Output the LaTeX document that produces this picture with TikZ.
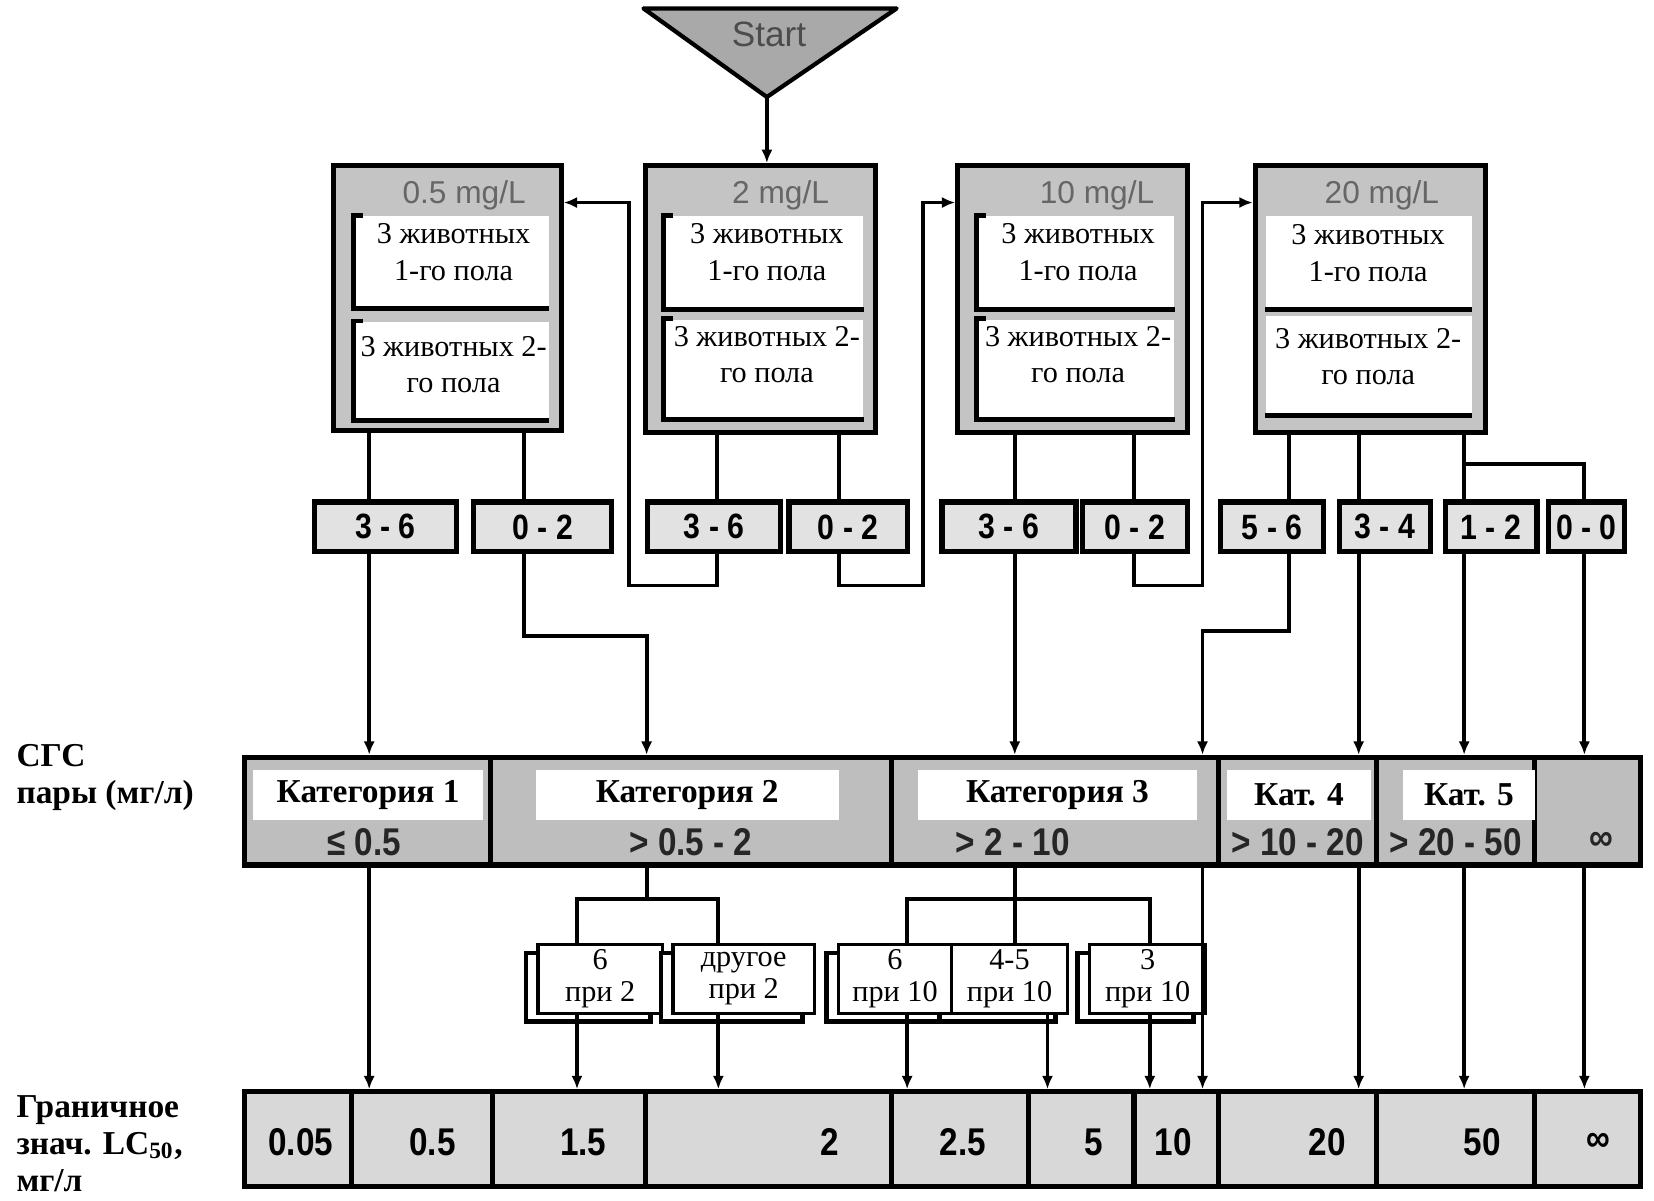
\documentclass[tikz,border=0pt]{standalone}
\usepackage{fontspec}
\setmainfont{Liberation Serif}
\setsansfont{Liberation Sans}
\newfontfamily\narrowsf[FakeStretch=0.86]{Liberation Sans}
\usetikzlibrary{positioning,arrows.meta,calc,shadows}
\definecolor{TriGray}{HTML}{A9A9A9}
\definecolor{DoseGray}{HTML}{C4C4C4}
\definecolor{ResGray}{HTML}{E2E2E2}
\definecolor{CatGray}{HTML}{BEBEBE}
\definecolor{LcGray}{HTML}{D8D8D8}
\definecolor{TitleGray}{HTML}{666666}
\newcommand{\upx}{0.010548cm}

\tikzset{
  dosebox/.style={draw,line width=1.5pt,fill=DoseGray,inner sep=0pt},
  dosetitle/.style={font=\sffamily\fontsize{9}{10}\selectfont,text=TitleGray,inner sep=0pt},
  sexbox/.style={fill=white,inner sep=0pt},
  sextext/.style={font=\fontsize{8.6}{10.3}\selectfont,align=center,inner sep=0pt},
  resbox/.style={draw,line width=1.5pt,fill=ResGray,inner sep=0pt,
    font=\narrowsf\bfseries\fontsize{10}{11}\selectfont},
  catcell/.style={draw,line width=1.5pt,fill=CatGray,inner sep=0pt},
  catlbl/.style={fill=white,inner sep=0pt,font=\bfseries\fontsize{9.5}{11}\selectfont},
  catrng/.style={font=\narrowsf\bfseries\fontsize{11}{12}\selectfont,text=black!85,inner sep=0pt},
  mortbox/.style={draw,line width=.9pt,fill=white,inner sep=0pt,align=center,
    font=\fontsize{8.6}{9.2}\selectfont,
    copy shadow={shadow xshift=-1.2mm,shadow yshift=-.85mm,draw=black,fill=white,line width=1.3pt}},
  lccell/.style={draw,line width=1.5pt,fill=LcGray,inner sep=0pt},
  lcval/.style={font=\narrowsf\bfseries\fontsize{11}{12}\selectfont,inner sep=0pt},
  sidelbl/.style={font=\bfseries\fontsize{9.5}{10.5}\selectfont,align=left,inner sep=0pt},
  conn/.style={line width=1.1pt},
  arr/.style={conn,-{Latex[length=3.8pt,width=3.2pt]}},
}

\begin{document}
\begin{tikzpicture}[x=\upx,y=-\upx]
\useasboundingbox (0,0) rectangle (1568,1138);

% ================= start =================
\filldraw[fill=TriGray,line width=1.2pt,line join=round] (610,8) -- (850,8) -- (727,92) -- cycle;
\node[font=\sffamily\fontsize{10}{12}\selectfont,text=black!70] (start) at (729,33) {Start};
\coordinate (startTip) at (727,92);

% ================= dose boxes =================
\node[dosebox,minimum width=216*\upx,minimum height=251*\upx] (b1) at (424,282.5) {};
\node[dosebox,minimum width=218*\upx,minimum height=253*\upx] (b2) at (721,283.5) {};
\node[dosebox,minimum width=218*\upx,minimum height=253*\upx] (b3) at (1017,283.5) {};
\node[dosebox,minimum width=218*\upx,minimum height=253*\upx] (b4) at (1299,283.5) {};

\node[dosetitle] (b1t) at (440,185) {0.5 mg/L};
\node[dosetitle] (b2t) at (740,185) {2 mg/L};
\node[dosetitle] (b3t) at (1040,185) {10 mg/L};
\node[dosetitle] (b4t) at (1310,185) {20 mg/L};

\foreach \n/\xa/\xb/\ya/\yb in {b1u/336/520/205/292, b1l/336/520/305/398,
    b2u/630/818/205/293, b2l/630/818/303/397, b3u/926/1113/205/293, b3l/926/1113/303/397,
    b4u/1200/1395/205/293, b4l/1200/1395/300/393}
  \node[sexbox,minimum width=(\xb-\xa)*\upx,minimum height=(\yb-\ya)*\upx]
    (\n) at ({(\xa+\xb)/2},{(\ya+\yb)/2}) {};
\foreach \n in {b1u,b1l,b2u,b2l,b3u,b3l}
  \draw[line width=1.4pt] ($(\n.north west)+(9,0)$) -- (\n.north west) -- (\n.south west) -- (\n.south east);
\foreach \n in {b4u,b4l}
  \draw[line width=1.4pt] (\n.south west) -- (\n.south east);

\foreach \n/\x/\yu/\yl in {b1/430/239/346, b2/727/239/336, b3/1022/239/336, b4/1297/240/338}{
  \node[sextext] (\n-m) at (\x,\yu) {3 животных\\1-го пола};
  \node[sextext] (\n-f) at (\x,\yl) {3 животных 2-\\го пола};
}

% ================= outcomes =================
\foreach \n/\xa/\xb/\t in {r1a/298/433/3 - 6, r1b/449/580/0 - 2, r2a/614/740/3 - 6,
    r2b/748/860/0 - 2, r3a/893/1020/3 - 6, r3b/1026/1126/0 - 2, r4a/1157/1255/5 - 6,
    r4b/1270/1356/3 - 4, r4c/1370/1457/1 - 2, r4d/1468/1540/0 - 0}
  \node[resbox,minimum width=(\xb-\xa)*\upx,minimum height=47*\upx]
    (\n) at ({(\xa+\xb)/2},499.5) {\t};

% ================= categories =================
\foreach \n/\xa/\xb/\rx/\r in {cat1/232/465/345/≤ 0.5, cat2/465/845/655/> 0.5 - 2,
    cat3/845/1155/960/> 2 - 10, cat4/1155/1305/1230/> 10 - 20,
    cat5/1305/1455/1380/> 20 - 50, cat6/1455/1555/1518/∞}{
  \node[catcell,minimum width=(\xb-\xa)*\upx,minimum height=102*\upx]
    (\n) at ({(\xa+\xb)/2},769) {};
  \node[catrng] (\n-r) at (\rx,798) {\r};
}
\foreach \n/\xa/\xb/\t in {cat1/240/458/Категория 1, cat2/508/795/Категория 2,
    cat3/870/1135/Категория 3, cat4/1163/1300/Кат. 4, cat5/1330/1455/Кат. 5}
  \node[catlbl,minimum width=(\xb-\xa)*\upx,minimum height=47*\upx]
    (\n-l) at ({(\xa+\xb)/2},753.5) {\t};

% ================= deaths at the test dose =================
\foreach \n/\xa/\xb/\t in {s1/510/628/{6\\при 2}, s2/638/772/{другое\\при 2},
    s4/902/1012/{4-5\\при 10}, s3/795/902/{6\\при 10}, s5/1033/1143/{3\\при 10}}
  \node[mortbox,minimum width=(\xb-\xa)*\upx,minimum height=65*\upx]
    (\n) at ({(\xa+\xb)/2},928) {\t};

% ================= LC50 limits =================
\foreach \n/\xa/\xb/\xt/\v in {v1/232/333/285/0.05, v2/333/467/410/0.5, v3/467/612/553/1.5,
    v4/612/845/787/2, v5/845/975/913/2.5, v6/975/1075/1037/5, v7/1075/1155/1112/10,
    v8/1155/1305/1258/20, v9/1305/1455/1405/50, v10/1455/1555/1515/∞}{
  \node[lccell,minimum width=(\xb-\xa)*\upx,minimum height=90*\upx]
    (\n) at ({(\xa+\xb)/2},1080) {};
  \node[lcval] (\n-t) at (\xt,1083) {\v};
}

% side labels
\node[sidelbl,anchor=west] (cgs) at (15,737) {СГС\\пары (мг/л)};
\node[sidelbl,anchor=west] (lcv) at (15,1084) {Граничное\\знач. LC\textsubscript{50},\\мг/л};

% ================= lanes =================
\coordinate (lnA) at (350,0);  \coordinate (lnB) at (497,0);
\coordinate (lnC) at (613,0);  \coordinate (lnD) at (596,0);
\coordinate (lnE) at (680,0);  \coordinate (lnF) at (795,0);
\coordinate (lnG) at (875,0);  \coordinate (lnH) at (962,0);
\coordinate (lnI) at (1075,0); \coordinate (lnJ) at (1140,0);
\coordinate (lnK) at (1222,0); \coordinate (lnL) at (1288,0);
\coordinate (lnM) at (1388,0); \coordinate (lnN) at (1502,0);
\coordinate (lnP) at (547,0);  \coordinate (lnQ) at (681,0);
\coordinate (lnR) at (860,0);  \coordinate (lnS) at (993,0);
\coordinate (lnT) at (1090,0);
\coordinate (yT) at (0,192);   \coordinate (yLp) at (0,555);
\coordinate (yJa) at (0,603);  \coordinate (yJb) at (0,598);
\coordinate (yBr) at (0,440);  \coordinate (ySp) at (0,852);

% start
\draw[arr] (startTip) -- (b2.north -| startTip);

% 0.5 mg/L
\draw[conn] (b1.south -| lnA) -- (r1a.north -| lnA);
\draw[conn] (b1.south -| lnB) -- (r1b.north -| lnB);
\draw[arr] (r1a.south -| lnA) -- (cat1.north -| lnA);
\draw[arr] (r1b.south -| lnB) -- (lnB |- yJa) -- (lnC |- yJa) -- (cat2.north -| lnC);

% 2 mg/L
\draw[conn] (b2.south -| lnE) -- (r2a.north -| lnE);
\draw[conn] (b2.south -| lnF) -- (r2b.north -| lnF);
\draw[arr] (r2a.south -| lnE) -- (lnE |- yLp) -- (lnD |- yLp) -- (lnD |- yT) -- (b1.east |- yT);
\draw[arr] (r2b.south -| lnF) -- (lnF |- yLp) -- (lnG |- yLp) -- (lnG |- yT) -- (b3.west |- yT);

% 10 mg/L
\draw[conn] (b3.south -| lnH) -- (r3a.north -| lnH);
\draw[conn] (b3.south -| lnI) -- (r3b.north -| lnI);
\draw[arr] (r3a.south -| lnH) -- (cat3.north -| lnH);
\draw[arr] (r3b.south -| lnI) -- (lnI |- yLp) -- (lnJ |- yLp) -- (lnJ |- yT) -- (b4.west |- yT);

% 20 mg/L
\draw[conn] (b4.south -| lnK) -- (r4a.north -| lnK);
\draw[conn] (b4.south -| lnL) -- (r4b.north -| lnL);
\draw[conn] (b4.south -| lnM) -- (r4c.north -| lnM);
\draw[conn] (lnM |- yBr) -- (lnN |- yBr) -- (r4d.north -| lnN);
\draw[arr] (r4a.south -| lnK) -- (lnK |- yJb) -- (lnJ |- yJb) -- (cat3.north -| lnJ);
\draw[arr] (r4b.south -| lnL) -- (cat4.north -| lnL);
\draw[arr] (r4c.south -| lnM) -- (cat5.north -| lnM);
\draw[arr] (r4d.south -| lnN) -- (cat6.north -| lnN);

% categories to limits
\draw[arr] (cat1.south -| lnA) -- (v2.north -| lnA);
\draw[conn] (cat2.south -| lnC) -- (lnC |- ySp);
\draw[conn] (s1.north -| lnP) -- (lnP |- ySp) -- (lnQ |- ySp) -- (s2.north -| lnQ);
\draw[arr] (s1.south -| lnP) -- (v3.north -| lnP);
\draw[arr] (s2.south -| lnQ) -- (v4.north -| lnQ);
\draw[conn] (cat3.south -| lnH) -- (s4.north -| lnH);
\draw[conn] (s3.north -| lnR) -- (lnR |- ySp) -- (lnT |- ySp) -- (s5.north -| lnT);
\draw[arr] (s3.south -| lnR) -- (v5.north -| lnR);
\draw[arr] (s4.south -| lnS) -- (v6.north -| lnS);
\draw[arr] (s5.south -| lnT) -- (v7.north -| lnT);
\draw[arr] (cat3.south -| lnJ) -- (v7.north -| lnJ);
\draw[arr] (cat4.south -| lnL) -- (v8.north -| lnL);
\draw[arr] (cat5.south -| lnM) -- (v9.north -| lnM);
\draw[arr] (cat6.south -| lnN) -- (v10.north -| lnN);
\end{tikzpicture}
\end{document}
